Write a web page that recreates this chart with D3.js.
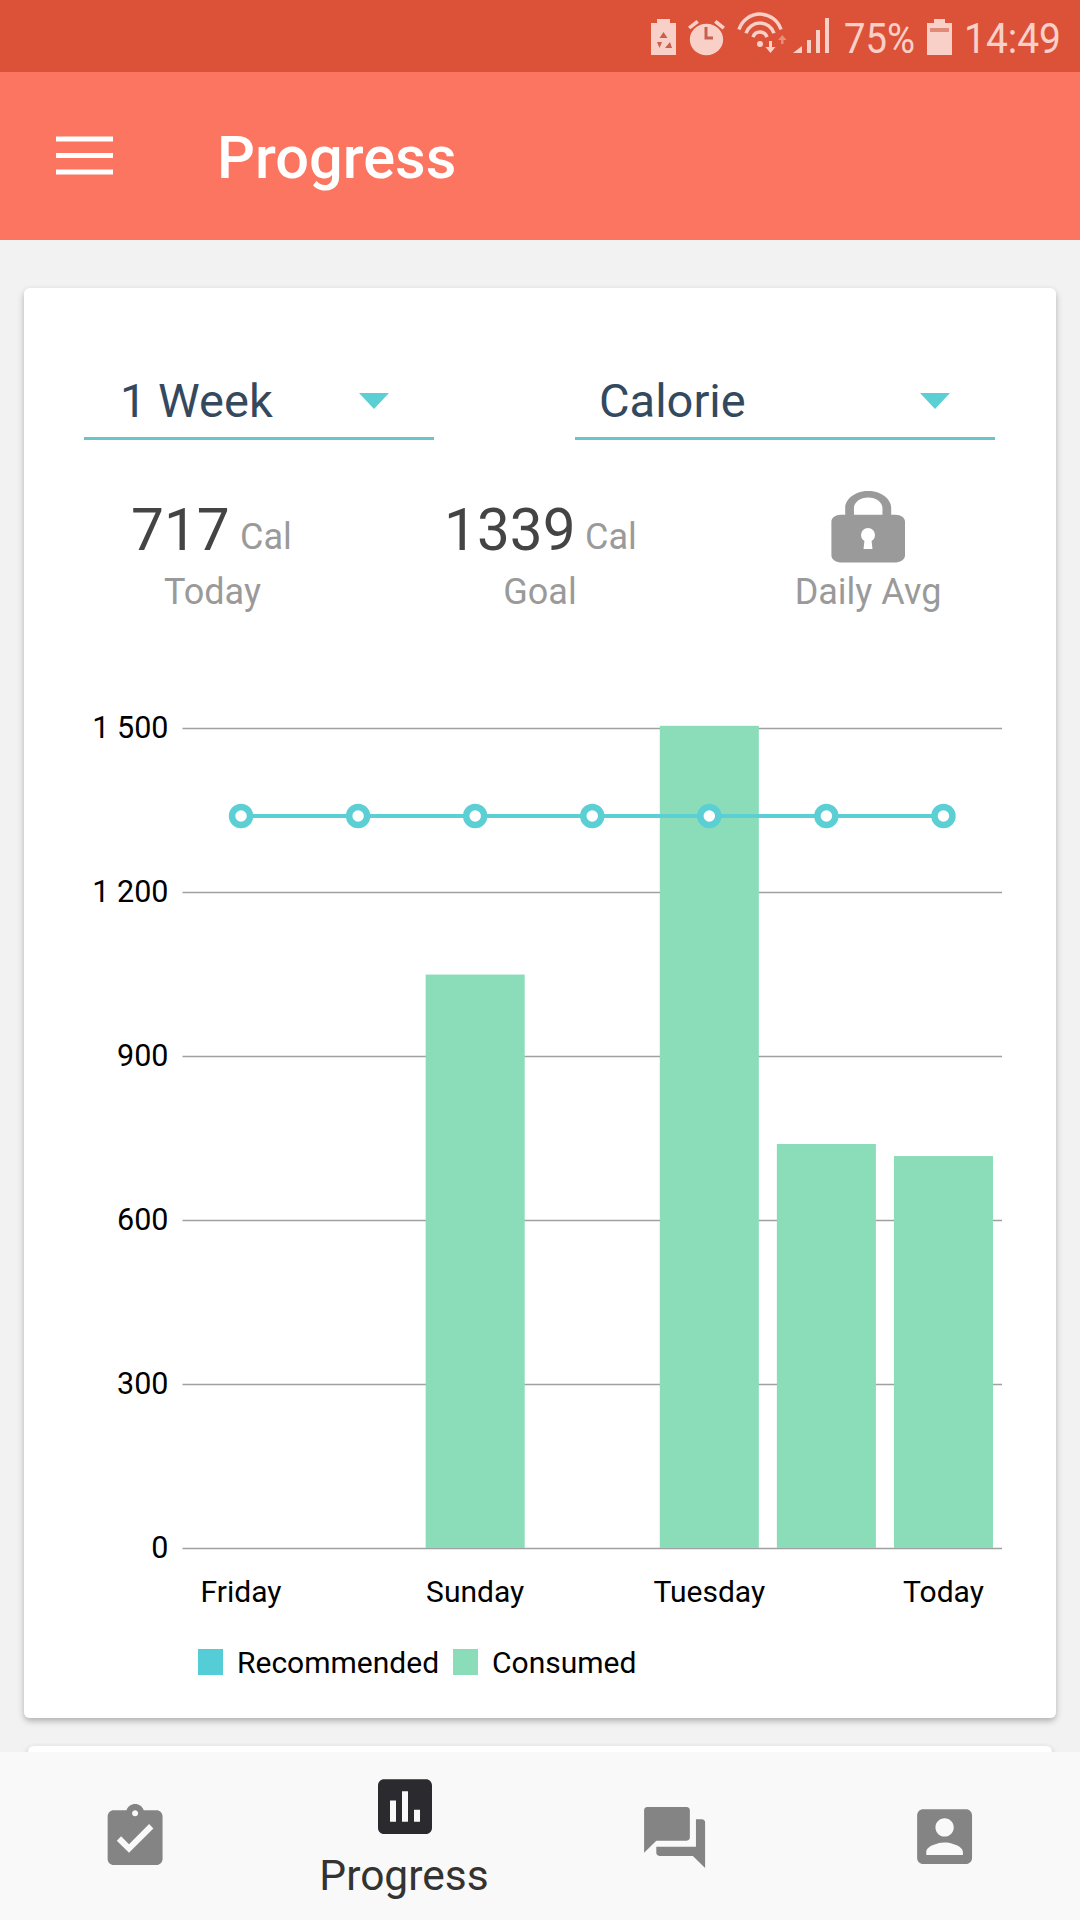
<!DOCTYPE html>
<html><head><meta charset="utf-8">
<script src="https://cdnjs.cloudflare.com/ajax/libs/d3/7.8.5/d3.min.js"></script>
<style>
html,body{margin:0;padding:0;background:#f2f2f2;}
svg{display:block;font-family:Roboto,sans-serif;}
</style></head><body><svg id="s" width="1080" height="1920"></svg>
<script>
const categories = ["Friday","Saturday","Sunday","Monday","Tuesday","Wednesday","Today"];
const consumed = [0,0,1049,0,1504,739,717];
const recommended = [1339,1339,1339,1339,1339,1339,1339];
const yTicks = [0,300,600,900,1200,1500];
const xLabels = ["Friday","Sunday","Tuesday","Today"];
const legendItems = ["Recommended","Consumed"];

const ICON = {
 clip:"M19 3h-4.18C14.4 1.84 13.3 1 12 1c-1.3 0-2.4.84-2.82 2H5c-1.1 0-2 .9-2 2v14c0 1.1.9 2 2 2h14c1.1 0 2-.9 2-2V5c0-1.1-.9-2-2-2zm-7 0c.55 0 1 .45 1 1s-.45 1-1 1-1-.45-1-1 .45-1 1-1zm-2 14l-4-4 1.41-1.41L10 14.17l6.59-6.59L18 9l-8 8z",
 bars:"M19 3H5c-1.1 0-2 .9-2 2v14c0 1.1.9 2 2 2h14c1.1 0 2-.9 2-2V5c0-1.1-.9-2-2-2zM9 17H7v-7h2v7zm4 0h-2V7h2v10zm4 0h-2v-4h2v4z",
 chat:"M21 6h-2v9H6v2c0 .55.45 1 1 1h11l4 4V7c0-.55-.45-1-1-1zm-4 6V3c0-.55-.45-1-1-1H3c-.55 0-1 .45-1 1v14l4-4h10c.55 0 1-.45 1-1z",
 person:"M3 5v14c0 1.1.89 2 2 2h14c1.1 0 2-.9 2-2V5c0-1.1-.9-2-2-2H5c-1.11 0-2 .9-2 2zm12 4c0 1.66-1.34 3-3 3s-3-1.34-3-3 1.34-3 3-3 3 1.34 3 3zm-9 8c0-2 4-3.1 6-3.1s6 1.1 6 3.1v1H6v-1z",
 lock:"M18 8h-1V6c0-2.76-2.24-5-5-5S7 3.24 7 6v2H6c-1.1 0-2 .9-2 2v10c0 1.1.9 2 2 2h12c1.1 0 2-.9 2-2V10c0-1.1-.9-2-2-2zm-2.9 0H8.9V6c0-1.71 1.39-3.1 3.1-3.1 1.71 0 3.1 1.39 3.1 3.1v2z",
 alarm:"M22 5.72l-4.6-3.86-1.29 1.53 4.6 3.86L22 5.72zM7.88 3.39L6.6 1.86 2 5.71l1.29 1.53 4.59-3.85zM12 4c-4.97 0-9 4.03-9 9s4.02 9 9 9c4.97 0 9-4.03 9-9s-4.03-9-9-9z"
};
const svg = d3.select("#s");
const defs = svg.append("defs");
const f = defs.append("filter").attr("id","sh").attr("x","-5%").attr("y","-5%").attr("width","110%").attr("height","110%");
f.append("feDropShadow").attr("dx",0).attr("dy",3).attr("stdDeviation",3).attr("flood-color","#000").attr("flood-opacity",0.28);

function rect(x,y,w,h,fill,extra){const r=svg.append("rect").attr("x",x).attr("y",y).attr("width",w).attr("height",h).attr("fill",fill);if(extra)extra(r);return r;}
function text(t,x,y,size,fill,anchor,weight){return svg.append("text").text(t).attr("x",x).attr("y",y).attr("font-size",size).attr("fill",fill).attr("text-anchor",anchor||"start").attr("font-weight",weight||400);}
function icon(d,x,y,sx,sy,fill){return svg.append("path").attr("d",d).attr("transform",`translate(${x},${y}) scale(${sx},${sy})`).attr("fill",fill);}

// app chrome
rect(0,0,1080,72,"#dc5239");
rect(0,72,1080,168,"#fb7560");
[136.5,153,169.5].forEach(y=>rect(56,y,57,5,"#fff"));
text("Progress",217,178,59.5,"#fff","start",500);

// status bar
const sb="#f8d0c8", sbDim="#c9604d";
svg.append("path").attr("d","M651 23h6v-4h13v4h6v32h-25z").attr("fill",sb);
svg.append("path").attr("d","M663.5 32l4 6h-8zM657 42h5l-2.5 6zM670 42l2 6h-7z").attr("fill",sbDim);
icon(ICON.alarm,684.3,16.7,1.85,1.75,sb);
svg.append("path").attr("d","M706 27v11h7").attr("fill","none").attr("stroke",sbDim).attr("stroke-width",3);
const wifi=svg.append("g").attr("fill","none").attr("stroke",sb).attr("stroke-width",3.5);
[21,14,7].forEach(r=>wifi.append("path").attr("d",`M${760-r} ${41-r*0.55}A${r*1.05} ${r*1.05} 0 0 1 ${760+r} ${41-r*0.55}`));
svg.append("circle").attr("cx",760).attr("cy",44).attr("r",3).attr("fill",sb);
svg.append("path").attr("d","M769 41h3v6h3.5l-5 6-5-6h3.5z").attr("fill",sb);
svg.append("path").attr("d","M781 44h2.5v-4h3l-4.2-5-4.2 5h3z").attr("fill","#ea8d7c");
svg.append("path").attr("d","M793 53l9-7v7z").attr("fill",sb);
[[807,40],[816,30],[825,18]].forEach(([x,y])=>rect(x,y,4,53-y,sb));
text("75%",844,53,42,sb).attr("textLength",71).attr("lengthAdjust","spacingAndGlyphs");
svg.append("path").attr("d","M927 23h7v-4h11v4h7v32h-25z").attr("fill",sb);
rect(930,28,19,4,"#e08a78");
text("14:49",964,53,42,sb).attr("textLength",97).attr("lengthAdjust","spacingAndGlyphs");

// cards
rect(24,288,1032,1430,"#fff",r=>r.attr("rx",6).attr("filter","url(#sh)"));
rect(28,1746,1024,60,"#fff",r=>r.attr("rx",6).attr("filter","url(#sh)"));

// selectors
const ink="#34495e", teal="#5bcfd3", grey="#9a9a9a", dark="#444444";
text("1 Week",120,417,47,ink);
text("Calorie",599,417,47,ink);
rect(84,437,350,3,"#6cc5c5");
rect(575,437,420,3,"#6cc5c5");
[359,920].forEach(x=>svg.append("path").attr("d",`M${x} 393h30l-15 16z`).attr("fill",teal));

// stats
text("717",131,550,58.5,dark);
text("Cal",240,549,36,grey);
text("Today",212.5,604,36,grey,"middle");
text("1339",444,550,58.5,dark);
text("Cal",585,549,36,grey);
text("Goal",540,604,36,grey,"middle");
icon(ICON.lock,813,487.6,4.6,3.4,grey);
svg.append("circle").attr("cx",868).attr("cy",535).attr("r",7).attr("fill","#fff");
svg.append("path").attr("d","M865 536h6l1.5 13h-9z").attr("fill","#fff");
text("Daily Avg",868,604,36,grey,"middle");

// chart
const x = d3.scaleBand().domain(categories).range([182.5,1002]).paddingInner(0.154).paddingOuter(0.077);
const y = d3.scaleLinear().domain([0,1500]).range([1548,728]);
const fmt = d3.formatLocale({decimal:".",thousands:" ",grouping:[3],currency:["",""]}).format(",d");

const gy = svg.append("g").attr("transform","translate(182.5,0)")
  .call(d3.axisLeft(y).tickValues(yTicks).tickFormat(fmt).tickSize(-819.5).tickPadding(14));
gy.select(".domain").remove();
gy.selectAll(".tick line").attr("stroke","#a0a0a0").attr("stroke-width",1.3);
gy.selectAll(".tick text").attr("font-family","Roboto,sans-serif").attr("font-size",30.5).attr("fill","#000");

svg.append("g").selectAll("rect").data(categories.map((c,i)=>({c,v:consumed[i]}))).join("rect")
  .attr("x",d=>x(d.c)).attr("width",x.bandwidth()).attr("y",d=>y(d.v)).attr("height",d=>y(0)-y(d.v)).attr("fill","#8bddb9");

const gx = svg.append("g").attr("transform","translate(0,1548)")
  .call(d3.axisBottom(x).tickFormat(c=>xLabels.includes(c)?c:"").tickSize(0).tickPadding(0));
gx.select(".domain").remove();
gx.selectAll(".tick text").attr("font-family","Roboto,sans-serif").attr("font-size",30).attr("fill","#000").attr("dy",0).attr("y",54);

const pts = categories.map((c,i)=>({c,v:recommended[i]}));
const cx = d=>x(d.c)+x.bandwidth()/2;
svg.append("path").datum(pts).attr("fill","none").attr("stroke",teal).attr("stroke-width",4)
  .attr("d",d3.line().x(cx).y(d=>y(d.v)));
svg.append("g").selectAll("circle").data(pts).join("circle")
  .attr("cx",cx).attr("cy",d=>y(d.v)).attr("r",9).attr("fill","#fff").attr("stroke",teal).attr("stroke-width",6.5);

// legend
const legendColor = d3.scaleOrdinal().domain(legendItems).range(["#55cdd6","#8bddb9"]);
const legendX = d3.scaleOrdinal().domain(legendItems).range([198,453]);
legendItems.forEach(k=>{
  rect(legendX(k),1649,25,26,legendColor(k));
  text(k,legendX(k)+39,1673,30,"#000");
});

// bottom nav
rect(0,1752,1080,168,"#f9f9f9");
icon(ICON.clip,98.5,1801,3.05,3.05,"#848484");
icon(ICON.bars,369,1770,3,3.05,"#2b2b2f");
icon(ICON.chat,638,1801,3.05,3.05,"#848484");
icon(ICON.person,908,1800,3.05,3.05,"#848484");
text("Progress",404,1890,42.5,"#333","middle");
</script></body></html>
